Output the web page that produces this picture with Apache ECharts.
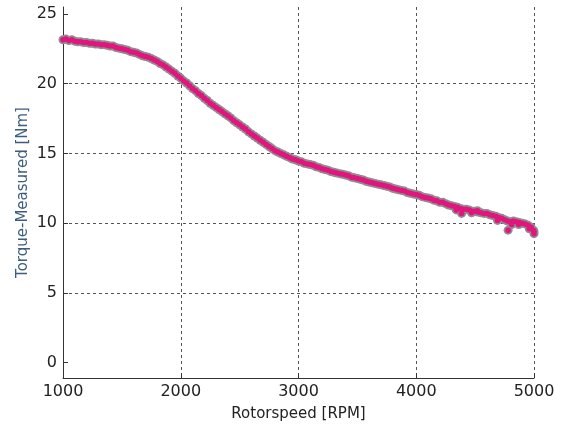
<!DOCTYPE html>
<html>
<head>
<meta charset="utf-8">
<script src="https://cdn.jsdelivr.net/npm/echarts@6/dist/echarts.min.js"></script>
<style>html,body{margin:0;padding:0;background:#fff}#c{width:566px;height:428px}</style>
</head>
<body>
<div id="c"></div>
<script>
const rpm = [1000,1025,1050,1075,1100,1125,1150,1175,1200,1225,1250,1275,1300,1325,1350,1375,1400,1425,1450,1475,
1500,1525,1550,1575,1600,1625,1650,1675,1700,1725,1750,1775,1800,1825,1850,1875,1900,1925,1950,1975,
2000,2025,2050,2075,2100,2125,2150,2175,2200,2225,2250,2275,2300,2325,2350,2375,2400,2425,2450,2475,
2500,2525,2550,2575,2600,2625,2650,2675,2700,2725,2750,2775,2800,2825,2850,2875,2900,2925,2950,2975,
3000,3025,3050,3075,3100,3125,3150,3175,3200,3225,3250,3275,3300,3325,3350,3375,3400,3425,3450,3475,
3500,3525,3550,3575,3600,3625,3650,3675,3700,3725,3750,3775,3800,3825,3850,3875,3900,3925,3950,3975,
4000,4025,4050,4075,4100,4125,4150,4175,4200,4225,4250,4275,4300,4325,4350,4375,4400,4425,4450,4475,
4500,4525,4550,4575,4600,4625,4650,4675,4700,4725,4750,4775,4800,4825,4850,4875,4900,4925,4950,4975,5000];
const torque = [23.15,23.2,23.1,23.15,23.05,23.0,23.0,22.95,22.95,22.9,22.9,22.85,22.85,22.8,22.8,22.75,22.7,22.7,22.6,22.55,
22.5,22.45,22.4,22.3,22.25,22.2,22.1,22.0,21.95,21.9,21.8,21.7,21.6,21.45,21.35,21.2,21.05,20.9,20.75,20.55,
20.4,20.2,20.05,19.85,19.65,19.5,19.3,19.15,18.95,18.8,18.6,18.45,18.3,18.15,18.0,17.85,17.7,17.55,17.35,17.2,
17.05,16.9,16.75,16.55,16.4,16.25,16.1,15.95,15.8,15.65,15.5,15.35,15.2,15.1,15.0,14.9,14.8,14.7,14.6,14.55,
14.45,14.4,14.3,14.25,14.2,14.15,14.05,14.0,13.9,13.85,13.8,13.7,13.65,13.6,13.55,13.5,13.45,13.4,13.3,13.25,
13.2,13.15,13.1,13.0,12.95,12.9,12.85,12.8,12.75,12.7,12.65,12.6,12.5,12.45,12.4,12.35,12.3,12.2,12.15,12.1,
12.05,12.0,11.9,11.85,11.8,11.75,11.65,11.6,11.5,11.5,11.4,11.3,11.25,11.2,11.15,11.05,11.0,11.0,10.95,10.85,
10.85,10.8,10.75,10.7,10.7,10.6,10.55,10.5,10.4,10.35,10.25,10.15,10.1,10.15,10.1,10.05,10.0,9.95,9.85,9.7,9.4];
const rpmExtra = [4340,4385,4470,4520,4690,4780,4810,4870,4960,4995,5000];
const torqueExtra = [10.95,10.7,10.75,10.9,10.2,9.5,9.9,9.9,9.6,9.5,9.25];
const xTicks = [1000,2000,3000,4000,5000];
const yTicks = [0,5,10,15,20,25];

const pts = rpm.map((x,i)=>[x,torque[i]]).concat(rpmExtra.map((x,i)=>[x,torqueExtra[i]]));
const font = 'DejaVu Sans';
const chart = echarts.init(document.getElementById('c'), null, {renderer:'canvas'});
chart.setOption({
  animation:false,
  backgroundColor:'#fff',
  grid:{left:63,right:32,top:7,bottom:50},
  xAxis:{
    type:'value', min:1000, max:5000, interval:1000,
    name:'Rotorspeed [RPM]', nameLocation:'middle', nameGap:29, nameMoveOverlap:false,
    nameTextStyle:{color:'#222',fontSize:15,fontFamily:font},
    axisLine:{show:true,onZero:false,lineStyle:{color:'#333',width:1}},
    axisTick:{show:true,inside:true,length:5,customValues:xTicks,lineStyle:{color:'#333'}},
    axisLabel:{color:'#222',fontSize:16,fontFamily:font,margin:6,customValues:xTicks,formatter:v=>String(v)},
    splitLine:{show:true,showMinLine:false,showMaxLine:true,lineStyle:{color:'#555',type:[3,3],width:1}}
  },
  yAxis:{
    type:'value', min:-1.1, max:25.5, splitNumber:5,
    name:'Torque-Measured [Nm]', nameLocation:'middle', nameGap:32, nameMoveOverlap:false,
    nameTextStyle:{color:'#3d5d7e',fontSize:15,fontFamily:font},
    axisLine:{show:true,onZero:false,lineStyle:{color:'#333',width:1}},
    axisTick:{show:true,inside:true,length:5,customValues:yTicks,lineStyle:{color:'#333'}},
    axisLabel:{color:'#222',fontSize:16,fontFamily:font,margin:6,customValues:yTicks},
    splitLine:{show:true,showMinLine:false,showMaxLine:false,lineStyle:{color:'#555',type:[3,3],width:1}}
  },
  series:[
    {type:'scatter',data:pts,symbol:'circle',symbolSize:9,itemStyle:{color:'#8e8e8e',opacity:1},silent:true,z:2},
    {type:'scatter',data:pts,symbol:'circle',symbolSize:5.5,itemStyle:{color:'#e2157e',opacity:1},silent:true,z:3}
  ]
});
</script>
</body>
</html>
